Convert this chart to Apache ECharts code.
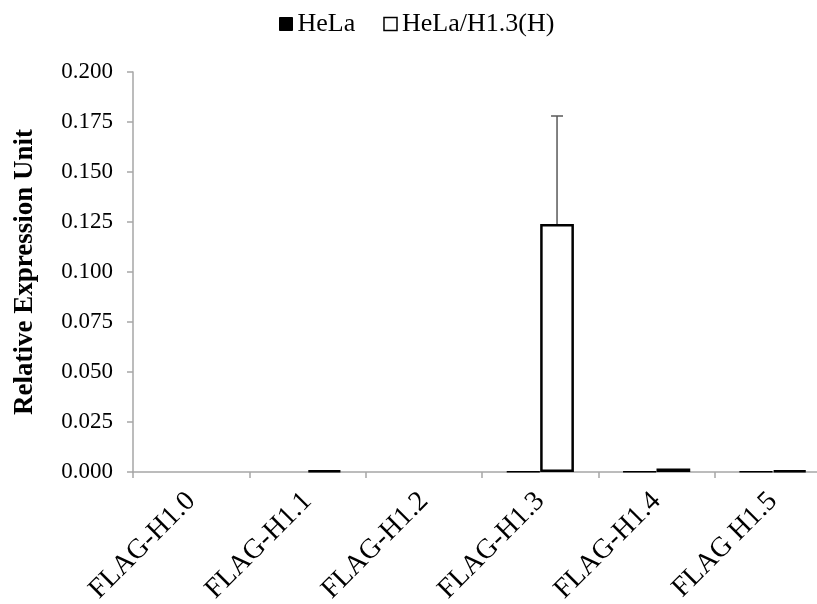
<!DOCTYPE html>
<html>
<head>
<meta charset="utf-8">
<script src="https://cdn.jsdelivr.net/npm/echarts@6/dist/echarts.min.js"></script>
<style>
html,body{margin:0;padding:0;background:#fff;overflow:hidden;}
#chart{width:817px;height:604px;}
</style>
</head>
<body>
<div id="chart"></div>
<script>
var categories = ['FLAG-H1.0', 'FLAG-H1.1', 'FLAG-H1.2', 'FLAG-H1.3', 'FLAG-H1.4', 'FLAG H1.5'];
var helaValues = [null, null, null, 0.0003, 0.0003, 0.0003];
var helaH13Values = [null, 0.0008, null, 0.124, 0.0018, 0.0008];
var helaH13Errors = [null, null, null, 0.054, null, null];
var yTicks = { min: 0, max: 0.2, interval: 0.025 };

var FONT = '"Liberation Serif", "Times New Roman", serif';
var CAT_GAP = 0.42;

var errorData = [];
for (var i = 0; i < categories.length; i++) {
  if (helaH13Errors[i] != null) {
    errorData.push([i, helaH13Values[i], helaH13Values[i] + helaH13Errors[i]]);
  }
}

var chart = echarts.init(document.getElementById('chart'));
chart.setOption({
  animation: false,
  backgroundColor: '#fff',
  legend: {
    top: 6,
    left: 274,
    itemWidth: 13,
    itemHeight: 13,
    itemGap: 28,
    textStyle: { fontFamily: FONT, fontSize: 26, color: '#000' },
    data: [
      { name: 'HeLa', icon: 'rect', itemStyle: { color: '#000', borderColor: '#000', borderWidth: 1 } },
      { name: 'HeLa/H1.3(H)', icon: 'rect', itemStyle: { color: '#fff', borderColor: '#000', borderWidth: 1.5 } }
    ]
  },
  grid: { left: 133, width: 698, top: 72, height: 400, containLabel: false, outerBoundsMode: 'none' },
  xAxis: {
    type: 'category',
    data: categories,
    axisLine: { lineStyle: { color: '#a6a6a6', width: 1.5 } },
    axisTick: { show: true, length: 6, lineStyle: { color: '#a6a6a6', width: 1.5 } },
    axisLabel: {
      rotate: 45,
      margin: 25,
      interval: 0,
      fontFamily: FONT,
      fontSize: 28,
      color: '#000'
    }
  },
  yAxis: {
    type: 'value',
    min: yTicks.min,
    max: yTicks.max,
    interval: yTicks.interval,
    name: 'Relative Expression Unit',
    nameLocation: 'middle',
    nameGap: 94,
    nameTextStyle: { fontFamily: FONT, fontSize: 27, fontWeight: 'bold', color: '#000' },
    axisLine: { show: true, lineStyle: { color: '#a6a6a6', width: 1.5 } },
    axisTick: { show: true, length: 6, lineStyle: { color: '#a6a6a6', width: 1.5 } },
    splitLine: { show: false },
    axisLabel: {
      margin: 20,
      fontFamily: FONT,
      fontSize: 23,
      color: '#000',
      formatter: function (v) { return v.toFixed(3); }
    }
  },
  series: [
    {
      name: 'HeLa',
      type: 'bar',
      data: helaValues,
      barGap: '0%',
      barCategoryGap: (CAT_GAP * 100) + '%',
      itemStyle: { color: '#000', borderColor: '#000', borderWidth: 1.5 }
    },
    {
      name: 'HeLa/H1.3(H)',
      type: 'bar',
      data: helaH13Values,
      barGap: '0%',
      barCategoryGap: (CAT_GAP * 100) + '%',
      itemStyle: { color: '#fff', borderColor: '#000', borderWidth: 2.5 }
    },
    {
      name: 'err',
      type: 'custom',
      data: errorData,
      z: 5,
      silent: true,
      renderItem: function (params, api) {
        var idx = api.value(0);
        var band = api.size([1, 0])[0];
        var bw = band * (1 - CAT_GAP) / 2;
        var lo = api.coord([idx, api.value(1)]);
        var hi = api.coord([idx, api.value(2)]);
        var x = lo[0] + bw / 2;
        var cap = 6;
        var style = { stroke: '#595959', lineWidth: 1.5, fill: null };
        return {
          type: 'group',
          children: [
            { type: 'line', shape: { x1: x, y1: lo[1], x2: x, y2: hi[1] }, style: style },
            { type: 'line', shape: { x1: x - cap, y1: hi[1], x2: x + cap, y2: hi[1] }, style: style }
          ]
        };
      }
    }
  ]
});
</script>
</body>
</html>
